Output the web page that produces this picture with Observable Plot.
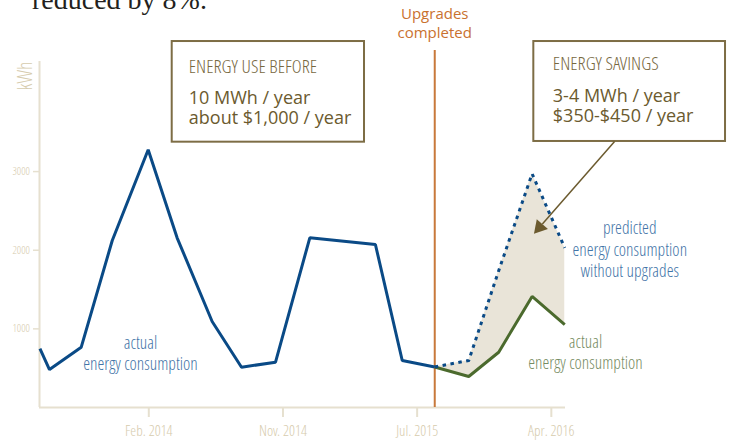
<!DOCTYPE html>
<html><head><meta charset="utf-8">
<script src="https://cdn.jsdelivr.net/npm/d3@7"></script>
<script src="https://cdn.jsdelivr.net/npm/@observablehq/plot@0.6"></script>
<style>
body{margin:0;background:#fff;}
#wrap{position:relative;width:730px;height:440px;overflow:hidden;}
#lead{position:absolute;left:32px;top:-14px;font:28px/28px "Liberation Serif","DejaVu Serif",serif;color:#231f20;white-space:nowrap;}
#chart{position:absolute;left:0;top:0;}
</style></head><body>
<div id="wrap"><div id="chart"></div><div id="lead">reduced by 8%.</div></div>
<script>
// x = months relative to Feb. 2014
const tickMonths = [0, 9, 18, 27];
const tickLabels = ["Feb. 2014", "Nov. 2014", "Jul. 2015", "Apr. 2016"];
const yTicks = [1000, 2000, 3000];

const beforeMonths = [-7.3, -6.66, -4.53, -2.45, -0.04, 1.9, 4.25, 6.22, 8.5, 10.8, 15.2, 17.0, 19.18];
const beforeKWh    = [750, 483, 767, 2124, 3277, 2158, 1094, 512, 576, 2158, 2073, 598, 515];

const afterMonths    = [19.18, 21.46, 23.47, 25.71, 27.9];
const actualAfterKWh = [515, 394, 703, 1412, 1055];
const predictedKWh   = [515, 598, 1740, 2972, 2031];

const upgradeMonth = 19.18;

const xDomain = [-7.33, 27.95];
const yDomain = [0, 4400];

const before = beforeMonths.map((m, i) => ({m, kwh: beforeKWh[i]}));
const after = afterMonths.map((m, i) => ({m, actual: actualAfterKWh[i], predicted: predictedKWh[i]}));

// pick a light condensed face if one exists, otherwise imitate one
const ctx = document.createElement("canvas").getContext("2d");
function width(font, s) { ctx.font = font; return ctx.measureText(s).width; }
function has(f) {
  const s = "energy consumption ENERGY 2014 kWh";
  return width("300 16px monospace", s) !== width(`300 16px "${f}", monospace`, s);
}
const condCandidates = ["Open Sans Condensed Light", "Roboto Condensed Light", "Roboto Condensed", "Open Sans Condensed", "Liberation Sans Narrow", "DejaVu Sans Condensed"];
const condFound = condCandidates.find(has);
const condBase = condFound || "Open Sans";
const cond = `"${condBase}","Open Sans",sans-serif`;
const sans = '"Open Sans","Noto Sans",sans-serif';
const squeeze = Math.min(1, 128 / width(`300 17.5px ${cond}`, "energy consumption"));

const axisCol = "#e6e0cf";
const axisText = "#d6cbad";
const blue = "#0a4a86";
const green = "#4b6a2d";
const boxCol = "#7d6d45";
const boxText = "#6b5a2e";

const chart = Plot.plot({
  width: 730, height: 440,
  marginTop: 61, marginRight: 165, marginBottom: 33, marginLeft: 39,
  x: {type: "linear", domain: xDomain},
  y: {domain: yDomain},
  style: {fontFamily: cond, fontWeight: 300, background: "transparent"},
  marks: [
    Plot.areaY(after, {x: "m", y1: "actual", y2: "predicted", fill: "#e9e4d8"}),
    Plot.ruleY([0], {x1: xDomain[0], x2: xDomain[1], stroke: axisCol, strokeWidth: 2}),
    Plot.ruleX([xDomain[0]], {y1: yDomain[0], y2: yDomain[1], stroke: axisCol, strokeWidth: 2}),
    Plot.axisX(tickMonths, {tickSize: 10, tickPadding: 8, fontSize: 15, fontWeight: 300, stroke: axisCol, fill: axisText, strokeWidth: 2,
      tickFormat: d => tickLabels[tickMonths.indexOf(d)], label: null}),
    Plot.axisY(yTicks, {tickSize: 6, tickPadding: 3.5, fontSize: 11, fontWeight: 300, stroke: axisCol, fill: axisText, strokeWidth: 1.5,
      tickFormat: d => String(d), label: null}),
    Plot.text(["kWh"], {frameAnchor: "top-left", dx: -8, rotate: -90, textAnchor: "end", lineAnchor: "bottom", fontSize: 20, fontWeight: 300, fill: axisText}),
    Plot.ruleX([upgradeMonth], {y1: 0, y2: 4540, stroke: "#c8793b", strokeWidth: 2}),
    Plot.line(before, {x: "m", y: "kwh", stroke: blue, strokeWidth: 3, strokeLinejoin: "miter", strokeLinecap: "butt"}),
    Plot.line(after, {x: "m", y: "actual", stroke: green, strokeWidth: 3, strokeLinejoin: "miter", strokeLinecap: "butt"}),
    Plot.line(after, {x: "m", y: "predicted", stroke: blue, strokeWidth: 3, strokeDasharray: "3.5,4.5", strokeLinecap: "butt"}),
    Plot.text([{x: upgradeMonth, y: 4701, t: "Upgrades\ncompleted"}], {x: "x", y: "y", text: "t", fontFamily: sans, fontWeight: 400, fontSize: 15, lineHeight: 1.28, lineAnchor: "bottom", textAnchor: "middle", fill: "#c9712f"}),
    Plot.text([{x: -0.556, y: 479, t: "actual\nenergy consumption"}], {x: "x", y: "y", text: "t", fontSize: 17.5, fontWeight: 300, lineHeight: 1.2, lineAnchor: "bottom", textAnchor: "middle", fill: "#4374a7"}),
    Plot.text([{x: 29.29, y: 492, t: "actual\nenergy consumption"}], {x: "x", y: "y", text: "t", fontSize: 17.5, fontWeight: 300, lineHeight: 1.2, lineAnchor: "bottom", textAnchor: "middle", fill: "#768c62"}),
    Plot.text([{x: 32.26, y: 1657, t: "predicted\nenergy consumption\nwithout upgrades"}], {x: "x", y: "y", text: "t", fontSize: 17.5, fontWeight: 300, lineHeight: 1.23, lineAnchor: "bottom", textAnchor: "middle", fill: "#4374a7"}),
    // boxes
    Plot.rect([{x1: 1.571, x2: 14.469, y1: 3374, y2: 4654}, {x1: 25.825, x2: 38.683, y1: 3383, y2: 4654}],
      {x1: "x1", x2: "x2", y1: "y1", y2: "y2", fill: "white", stroke: boxCol, strokeWidth: 2}),
    Plot.text([{x: 2.684, y: 4251, t: "ENERGY USE BEFORE"}, {x: 27.10, y: 4286, t: "ENERGY SAVINGS"}],
      {x: "x", y: "y", text: "t", fontSize: 19, fontWeight: 300, lineAnchor: "bottom", textAnchor: "start", fill: "#77683f"}),
    Plot.text([{x: 2.684, y: 3608, t: "10 MWh / year\nabout $1,000 / year"}, {x: 27.10, y: 3628, t: "3-4 MWh / year\n$350-$450 / year"}],
      {x: "x", y: "y", text: "t", fontFamily: sans, fontWeight: 400, fontSize: 18, lineHeight: 1.11, lineAnchor: "bottom", textAnchor: "start", fill: boxText}),
    // arrow
    Plot.link([{x1: 31.24, y1: 3383, x2: 26.40, y2: 2334}], {x1: "x1", y1: "y1", x2: "x2", y2: "y2", stroke: boxText, strokeWidth: 1.5}),
    Plot.dot([{x: 26.21, y: 2292}], {x: "x", y: "y", symbol: "triangle", r: 5.5, fill: boxText, stroke: "none", rotate: 221})
  ]
});

// squeeze the condensed-style texts horizontally about their own anchor if no narrow face was found
if (squeeze < 0.98) {
  chart.querySelectorAll("text").forEach(el => {
    const g = el.parentNode.closest("[font-family]");
    if (g && g.getAttribute("font-family") === sans) return;
    const x = +el.getAttribute("x") || 0, y = +el.getAttribute("y") || 0;
    const t = el.getAttribute("transform") || "";
    el.setAttribute("transform", `${t} translate(${x},${y}) scale(${squeeze},1) translate(${-x},${-y})`);
  });
}
document.getElementById("chart").appendChild(chart);
</script>
</body></html>
